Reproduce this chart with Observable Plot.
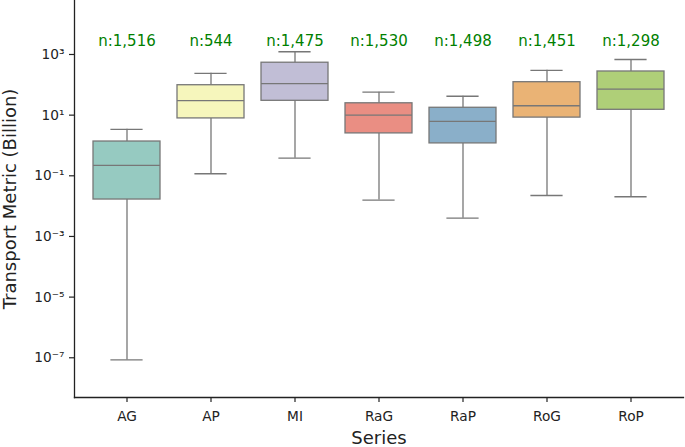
<!DOCTYPE html>
<html>
<head>
<meta charset="utf-8">
<script src="https://cdn.jsdelivr.net/npm/d3@7"></script>
<script src="https://cdn.jsdelivr.net/npm/@observablehq/plot@0.6"></script>
<style>
  html, body { margin: 0; padding: 0; background: #fff; }
  #chart svg { display: block; }
</style>
</head>
<body>
<div id="chart"></div>
<script>
const categories = ["AG", "AP", "MI", "RaG", "RaP", "RoG", "RoP"];
const whiskerLow  = [8.5e-8, 0.117, 0.38, 0.0158, 0.004, 0.0224, 0.0204];
const q1          = [0.0165, 7.8, 29.7, 2.5, 1.17, 8.3, 15];
const median      = [0.22, 30, 110, 10, 6.2, 20.4, 72];
const q3          = [1.35, 97, 535, 24.6, 17.5, 122, 275];
const whiskerHigh = [3.4, 240, 1230, 57, 42, 300, 684];
const counts      = [1516, 544, 1475, 1530, 1498, 1451, 1298];
const colors      = ["#96cac1", "#f6f6bc", "#c1bed6", "#ea8e83", "#8aafc9", "#eab375", "#afcf78"];
const yTicks      = [1e3, 1e1, 1e-1, 1e-3, 1e-5, 1e-7];

const rows = categories.map((c, i) => ({
  cat: c, lo: whiskerLow[i], q1: q1[i], med: median[i], q3: q3[i], hi: whiskerHigh[i], n: counts[i]
}));

const sup = {"-": "\u207B", "0": "\u2070", "1": "\u00B9", "2": "\u00B2", "3": "\u00B3", "4": "\u2074", "5": "\u2075", "6": "\u2076", "7": "\u2077", "8": "\u2078", "9": "\u2079"};
const fmtPow = d => "10" + String(Math.round(Math.log10(d))).split("").map(ch => sup[ch]).join("");

const lineColor = "#777777";
const font = "DejaVu Sans, sans-serif";
const yDomain = [Math.pow(10, -8.31), Math.pow(10, 4.78)];

const chart = Plot.plot({
  width: 685,
  height: 447,
  marginLeft: 74,
  marginRight: 2,
  marginTop: 0,
  marginBottom: 50,
  style: { fontFamily: font, fontSize: "13.7px", color: "#222", background: "#fff" },
  x: { domain: categories, padding: 0.2, label: "Series" },
  y: { type: "log", domain: yDomain, label: "Transport Metric (Billion)" },
  color: { domain: categories, range: colors },
  marks: [
    Plot.ruleX(rows, { x: "cat", y1: "lo", y2: "q1", stroke: lineColor, strokeWidth: 1.3 }),
    Plot.ruleX(rows, { x: "cat", y1: "q3", y2: "hi", stroke: lineColor, strokeWidth: 1.3 }),
    Plot.tickY(rows, { x: "cat", y: "lo", stroke: lineColor, strokeWidth: 1.3, insetLeft: 17.4, insetRight: 17.4 }),
    Plot.tickY(rows, { x: "cat", y: "hi", stroke: lineColor, strokeWidth: 1.3, insetLeft: 17.4, insetRight: 17.4 }),
    Plot.barY(rows, { x: "cat", y1: "q1", y2: "q3", fill: "cat", stroke: lineColor, strokeWidth: 1.3 }),
    Plot.tickY(rows, { x: "cat", y: "med", stroke: lineColor, strokeWidth: 1.3 }),
    Plot.text(rows, { x: "cat", frameAnchor: "top", dy: 41, text: d => "n:" + d3.format(",")(d.n), fill: "green", fontSize: 15, lineAnchor: "middle" }),
    Plot.frame({ anchor: "left", stroke: "#222", strokeWidth: 1.3 }),
    Plot.frame({ anchor: "bottom", stroke: "#222", strokeWidth: 1.3 }),
    Plot.axisX({ tickSize: 5, tickPadding: 9, fontSize: 13.7, stroke: "#222", strokeWidth: 1.2,
                 label: "Series", labelAnchor: "center", labelOffset: 46, labelArrow: "none" }),
    Plot.axisY({ ticks: yTicks, tickFormat: fmtPow, tickSize: 5, tickPadding: 5, fontSize: 13.7, stroke: "#222", strokeWidth: 1.2,
                 label: "Transport Metric (Billion)", labelAnchor: "center", labelOffset: 71, labelArrow: "none" })
  ]
});

// axis titles are larger than tick labels
chart.querySelectorAll("g[aria-label='x-axis label'] text, g[aria-label='y-axis label'] text").forEach(t => t.setAttribute("font-size", "18"));
document.getElementById("chart").appendChild(chart);
</script>
</body>
</html>
